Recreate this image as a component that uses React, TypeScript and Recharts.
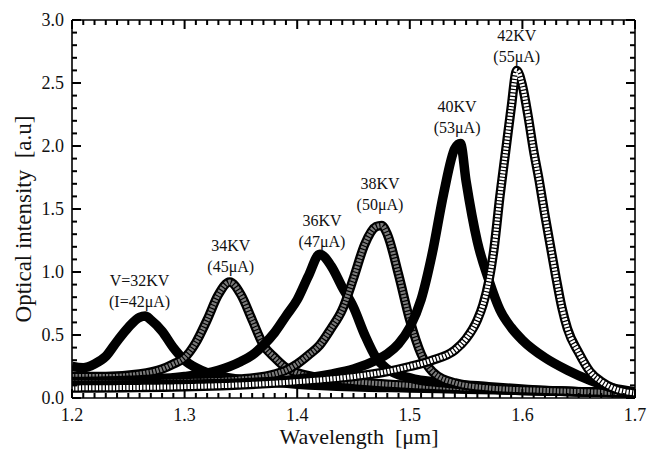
import { LineChart, Line, XAxis, YAxis, ReferenceDot } from 'recharts'

// spectra (wavelength in um, intensity in a.u.)
const x32 = [1.2, 1.21, 1.22, 1.23, 1.24, 1.25, 1.26, 1.265, 1.27, 1.28, 1.29, 1.3, 1.31, 1.32, 1.34, 1.37, 1.4, 1.45, 1.5, 1.55, 1.6, 1.65, 1.7]
const y32 = [0.25, 0.24, 0.27, 0.33, 0.45, 0.56, 0.64, 0.65, 0.62, 0.53, 0.4, 0.3, 0.24, 0.2, 0.16, 0.13, 0.11, 0.09, 0.08, 0.07, 0.06, 0.05, 0.04]

const x34 = [1.2, 1.23, 1.26, 1.28, 1.29, 1.3, 1.31, 1.32, 1.33, 1.34, 1.35, 1.36, 1.37, 1.38, 1.39, 1.4, 1.42, 1.45, 1.5, 1.55, 1.6, 1.65, 1.7]
const y34 = [0.17, 0.17, 0.19, 0.23, 0.27, 0.32, 0.44, 0.62, 0.82, 0.92, 0.82, 0.62, 0.42, 0.32, 0.24, 0.2, 0.16, 0.13, 0.1, 0.08, 0.06, 0.05, 0.04]

const x36 = [1.2, 1.25, 1.3, 1.33, 1.35, 1.36, 1.37, 1.38, 1.39, 1.4, 1.41, 1.42, 1.43, 1.44, 1.45, 1.46, 1.47, 1.48, 1.5, 1.53, 1.57, 1.62, 1.7]
const y36 = [0.13, 0.14, 0.17, 0.22, 0.29, 0.34, 0.42, 0.52, 0.65, 0.78, 0.97, 1.14, 1.05, 0.88, 0.72, 0.5, 0.32, 0.23, 0.16, 0.12, 0.09, 0.06, 0.04]

const x38 = [1.2, 1.25, 1.3, 1.35, 1.38, 1.39, 1.4, 1.41, 1.42, 1.43, 1.44, 1.45, 1.46, 1.47, 1.475, 1.48, 1.49, 1.5, 1.51, 1.52, 1.54, 1.57, 1.62, 1.7]
const y38 = [0.12, 0.12, 0.13, 0.15, 0.19, 0.22, 0.27, 0.34, 0.42, 0.55, 0.7, 0.95, 1.22, 1.36, 1.37, 1.3, 0.98, 0.62, 0.35, 0.21, 0.12, 0.08, 0.06, 0.04]

const x40 = [1.2, 1.3, 1.35, 1.4, 1.43, 1.45, 1.47, 1.48, 1.49, 1.5, 1.51, 1.52, 1.53, 1.54, 1.545, 1.55, 1.56, 1.57, 1.58, 1.59, 1.6, 1.62, 1.64, 1.66, 1.68, 1.7]
const y40 = [0.1, 0.11, 0.12, 0.15, 0.19, 0.23, 0.3, 0.35, 0.43, 0.56, 0.78, 1.15, 1.62, 1.98, 2.02, 1.72, 1.24, 0.94, 0.7, 0.56, 0.46, 0.32, 0.22, 0.14, 0.08, 0.05]

const x42 = [1.2, 1.3, 1.4, 1.45, 1.48, 1.5, 1.52, 1.54, 1.55, 1.56, 1.565, 1.57, 1.575, 1.58, 1.585, 1.59, 1.595, 1.6, 1.605, 1.61, 1.615, 1.62, 1.625, 1.63, 1.635, 1.64, 1.65, 1.66, 1.67, 1.68, 1.7]
const y42 = [0.08, 0.09, 0.13, 0.17, 0.21, 0.25, 0.3, 0.38, 0.47, 0.62, 0.74, 0.92, 1.2, 1.6, 1.95, 2.3, 2.6, 2.48, 2.24, 1.96, 1.72, 1.45, 1.2, 0.95, 0.72, 0.55, 0.36, 0.21, 0.13, 0.08, 0.04]

const voltLabels = ['V=32KV', '34KV', '36KV', '38KV', '40KV', '42KV']
const currentLabels = ['(I=42μA)', '(45μA)', '(47μA)', '(50μA)', '(53μA)', '(55μA)']
const labelX = [1.26, 1.341, 1.422, 1.4735, 1.542, 1.595]
const labelY = [0.887, 1.165, 1.363, 1.66, 2.268, 2.832]

const xMajor = [1.2, 1.3, 1.4, 1.5, 1.6, 1.7]
const yMajor = [0, 0.5, 1, 1.5, 2, 2.5, 3]

const xTicks = Array.from({ length: 51 }, (_, i) => Number((1.2 + i * 0.01).toFixed(2)))
const yTicks = Array.from({ length: 31 }, (_, i) => Number((i * 0.1).toFixed(1)))

const font = "'Liberation Serif', 'Times New Roman', serif"

// plot frame in pixels (chart margins + axis sizes below)
const LEFT = 72
const RIGHT = 635
const TOP = 20
const BOTTOM = 398

const pts = (xs: number[], ys: number[]) => xs.map((x, i) => ({ x, y: ys[i] }))

const isMajor = (list: number[], v: number) => list.some(m => Math.abs(m - v) < 1e-6)

const tickLen = (major: boolean) => (major ? 9 : 5)

// bottom / left axes only write the numbers
const BottomLabel = (props: any) => {
  const { x, payload } = props
  if (!isMajor(xMajor, payload.value)) return <g />
  return (
    <text x={x} y={421} textAnchor='middle' fontSize={18} fontFamily={font} fill='#111'>
      {payload.value.toFixed(1)}
    </text>
  )
}

const LeftLabel = (props: any) => {
  const { y, payload } = props
  if (!isMajor(yMajor, payload.value)) return <g />
  return (
    <text x={64} y={y + 6} textAnchor='end' fontSize={18} fontFamily={font} fill='#111'>
      {payload.value.toFixed(1)}
    </text>
  )
}

// inward ticks on both opposite edges, drawn from the top / right axes
const XTickPair = (props: any) => {
  const { x, payload } = props
  const len = tickLen(isMajor(xMajor, payload.value))
  return (
    <g>
      <rect x={x - 1} y={TOP} width={2} height={len} fill='#000' />
      <rect x={x - 1} y={BOTTOM - len} width={2} height={len} fill='#000' />
    </g>
  )
}

const YTickPair = (props: any) => {
  const { y, payload } = props
  const len = tickLen(isMajor(yMajor, payload.value))
  return (
    <g>
      <rect x={RIGHT - len} y={y - 1} width={len} height={2} fill='#000' />
      <rect x={LEFT} y={y - 1} width={len} height={2} fill='#000' />
    </g>
  )
}

const PeakLabel = (i: number) => (p: any) => (
  <text x={p.cx} y={p.cy} textAnchor='middle' fontSize={16} fontFamily={font} fill='#111'>
    <tspan x={p.cx}>{voltLabels[i]}</tspan>
    <tspan x={p.cx} dy={21}>{currentLabels[i]}</tspan>
  </text>
)

const series = [
  { data: pts(x32, y32), kind: 'solid' },
  { data: pts(x34, y34), kind: 'gray' },
  { data: pts(x36, y36), kind: 'solid' },
  { data: pts(x38, y38), kind: 'gray' },
  { data: pts(x40, y40), kind: 'solid' },
  { data: pts(x42, y42), kind: 'open' }
]

const frame = { stroke: '#000', strokeWidth: 1.6 }

export default function App () {
  return (
    <div style={{ position: 'absolute', left: 0, top: 0, width: 647, height: 453, background: '#fff' }}>
      <LineChart width={647} height={453} margin={{ top: TOP - 1, right: 647 - RIGHT - 1, bottom: 0, left: 0 }}>
        <XAxis
          dataKey='x'
          type='number'
          domain={[1.2, 1.7]}
          ticks={xTicks}
          interval={0}
          allowDataOverflow
          height={453 - BOTTOM}
          tickSize={0}
          tickLine={false}
          tick={<BottomLabel />}
          axisLine={frame}
          label={{
            content: () => (
              <text x={359} y={444} textAnchor='middle' fontSize={22} fontFamily={font} fill='#111' xmlSpace='preserve'>
                Wavelength  [μm]
              </text>
            )
          }}
        />
        <XAxis
          xAxisId='top'
          orientation='top'
          dataKey='x'
          type='number'
          domain={[1.2, 1.7]}
          ticks={xTicks}
          interval={0}
          allowDataOverflow
          height={1}
          tickSize={0}
          tickLine={false}
          tick={<XTickPair />}
          axisLine={frame}
        />
        <YAxis
          type='number'
          domain={[0, 3]}
          ticks={yTicks}
          interval={0}
          allowDataOverflow
          width={LEFT}
          tickSize={0}
          tickLine={false}
          tick={<LeftLabel />}
          axisLine={frame}
          label={{
            content: () => (
              <text
                transform='translate(31, 219) rotate(-90)'
                textAnchor='middle'
                fontSize={23}
                fontFamily={font}
                fill='#111'
                xmlSpace='preserve'
              >
                Optical intensity  [a.u]
              </text>
            )
          }}
        />
        <YAxis
          yAxisId='right'
          orientation='right'
          type='number'
          domain={[0, 3]}
          ticks={yTicks}
          interval={0}
          allowDataOverflow
          width={1}
          tickSize={0}
          tickLine={false}
          tick={<YTickPair />}
          axisLine={frame}
        />
        {series.flatMap((s, i) => {
          const lines = [
            <Line
              key={`o${i}`}
              data={s.data}
              dataKey='y'
              type='monotone'
              stroke='#000'
              strokeWidth={9.5}
              strokeLinejoin='round'
              dot={false}
              isAnimationActive={false}
            />
          ]
          if (s.kind !== 'solid') {
            // the open-square trace sits on the top/right axes (same domains) so those get their ticks
            const onFrame = s.kind === 'open'
            lines.push(
              <Line
                key={`i${i}`}
                data={s.data}
                dataKey='y'
                xAxisId={onFrame ? 'top' : 0}
                yAxisId={onFrame ? 'right' : 0}
                type='monotone'
                stroke={onFrame ? '#fff' : '#7a7a7a'}
                strokeWidth={5}
                strokeDasharray='2.2 1.2'
                dot={false}
                isAnimationActive={false}
              />
            )
          }
          return lines
        })}
        {voltLabels.map((_, i) => (
          <ReferenceDot key={`l${i}`} x={labelX[i]} y={labelY[i]} r={0} shape={PeakLabel(i)} />
        ))}
      </LineChart>
    </div>
  )
}
